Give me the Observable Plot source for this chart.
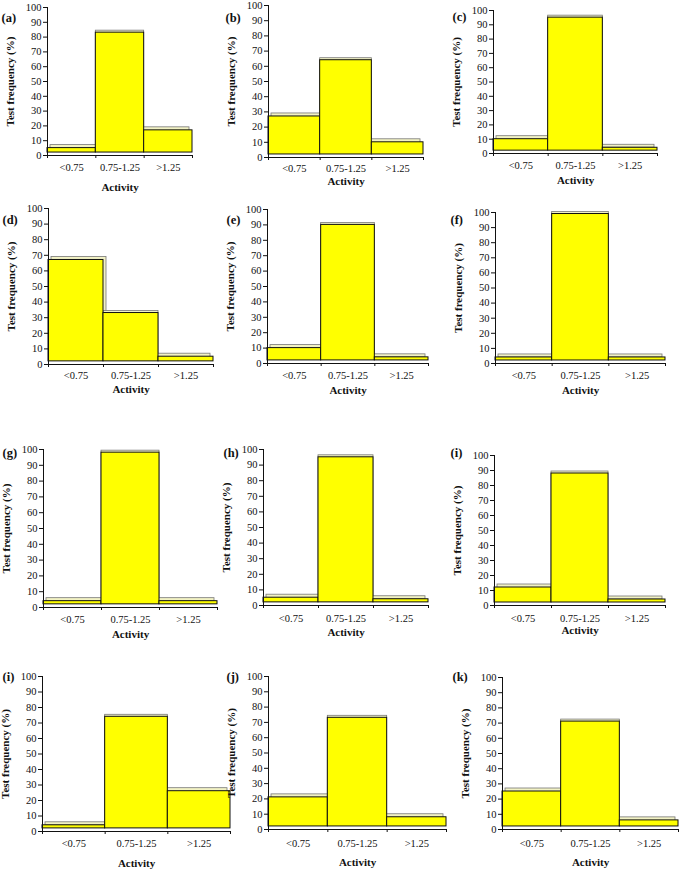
<!DOCTYPE html>
<html>
<head>
<meta charset="utf-8">
<script src="https://cdn.jsdelivr.net/npm/d3@7"></script>
<script src="https://cdn.jsdelivr.net/npm/@observablehq/plot@0.6"></script>
<style>
  html, body { margin: 0; padding: 0; background: #fff; }
  #fig { position: relative; width: 685px; height: 873px; background: #fff; overflow: hidden; }
  #fig svg { position: absolute; overflow: visible; }
</style>
</head>
<body>
<div id="fig"></div>
<script>
// ---- data ----
const categories = ["<0.75", "0.75-1.25", ">1.25"];
const panelTags = ["(a)", "(b)", "(c)", "(d)", "(e)", "(f)", "(g)", "(h)", "(i)", "(i)", "(j)", "(k)"];
const freqA = [5, 83, 17];
const freqB = [27, 64, 10];
const freqC = [10, 95, 4];
const freqD = [67, 33, 5];
const freqE = [10, 90, 4];
const freqF = [4, 99, 4];
const freqG = [4, 98, 4];
const freqH = [5, 95, 4];
const freqI = [12, 88, 4];
const freqI2 = [4, 74, 26];
const freqJ = [21, 73, 8];
const freqK = [25, 71, 6];
const yTicks = [0, 10, 20, 30, 40, 50, 60, 70, 80, 90, 100];
const xLabel = "Activity";
const yLabel = "Test frequency (%)";
const allFreq = [freqA, freqB, freqC, freqD, freqE, freqF, freqG, freqH, freqI, freqI2, freqJ, freqK];

// ---- layout (pixel placement of each panel) ----
const layout = [
  {axisX: 47,  y100: 7,   y0: 155, right: 192, catDy: 12, actDy: 35, tagX: 1,   tagY: 13},
  {axisX: 268, y100: 5,   y0: 157, right: 423, catDy: 11, actDy: 27, tagX: 225, tagY: 13},
  {axisX: 493, y100: 10,  y0: 153, right: 657, catDy: 12, actDy: 30, tagX: 452, tagY: 12},
  {axisX: 48,  y100: 208, y0: 364, right: 213, catDy: 11, actDy: 28, tagX: 2,   tagY: 215},
  {axisX: 267, y100: 209, y0: 363, right: 428, catDy: 12, actDy: 30, tagX: 226, tagY: 215},
  {axisX: 495, y100: 212, y0: 363, right: 665, catDy: 12, actDy: 30, tagX: 450, tagY: 215},
  {axisX: 43,  y100: 449, y0: 607, right: 217, catDy: 12, actDy: 30, tagX: 2,   tagY: 448},
  {axisX: 263, y100: 449, y0: 605, right: 428, catDy: 13, actDy: 30, tagX: 223, tagY: 448},
  {axisX: 494, y100: 455, y0: 605, right: 665, catDy: 13, actDy: 28, tagX: 450, tagY: 448},
  {axisX: 42,  y100: 676, y0: 831, right: 230, catDy: 12, actDy: 35, tagX: 2,   tagY: 672},
  {axisX: 268, y100: 676, y0: 829, right: 446, catDy: 14, actDy: 36, tagX: 226, tagY: 672},
  {axisX: 502, y100: 677, y0: 829, right: 678, catDy: 14, actDy: 36, tagX: 452, tagY: 672}
];

const serif = "'Liberation Serif', 'Times New Roman', Times, serif";
const floorDepth = 2;      // depth of the 3-D floor, in value units
const front = "#ffff00";
const backFill = "#f2f2c4";

function panel(vals, tag, L) {
  const mL = 50, mT = 12, mR = 14, mB = 44;
  const w = L.right - L.axisX + mL + mR;
  const h = L.y0 - L.y100 + mT + mB;
  const rows = categories.map((c, i) => ({c, i, v: vals[i]}));
  const x1 = r => r.i, x2 = r => r.i + 1;
  const chart = Plot.plot({
    width: w, height: h,
    marginLeft: mL, marginTop: mT, marginRight: mR, marginBottom: mB,
    style: {fontFamily: serif, fontSize: "10.5px", background: "transparent", color: "#111"},
    x: {domain: [0, 3], ticks: [0, 1, 2, 3], tickFormat: () => "", tickSize: 3, label: null},
    y: {domain: [0, 100], ticks: yTicks, tickSize: 4, tickPadding: 2, label: null},
    marks: [
      // floor back edge
      Plot.ruleY([floorDepth], {stroke: "#aaa", strokeWidth: 0.8, dy: -1}),
      // 3-D depth (back faces)
      Plot.rectY(rows.filter(r => r.i === 0), {x1, x2, y1: floorDepth, y2: "v", dx: 3, dy: -3, fill: backFill, stroke: "#777", strokeWidth: 0.8}),
      Plot.rectY(rows.filter(r => r.i === 1), {x1, x2, y1: floorDepth, y2: "v", dx: 0, dy: -2, fill: backFill, stroke: "#777", strokeWidth: 0.8}),
      Plot.rectY(rows.filter(r => r.i === 2), {x1, x2, y1: floorDepth, y2: "v", dx: -3, dy: -3, fill: backFill, stroke: "#777", strokeWidth: 0.8}),
      // front faces
      Plot.rectY(rows, {x1, x2, y1: floorDepth, y2: "v", fill: front, stroke: "#111", strokeWidth: 1}),
      // axes lines
      Plot.ruleY([0], {stroke: "#111", strokeWidth: 1}),
      Plot.ruleX([0], {stroke: "#111", strokeWidth: 1}),
      // category labels
      Plot.text(rows, {x: r => r.i + 0.5, y: 0, dy: L.catDy, text: "c", fontSize: 10.5, fill: "#111"}),
      // axis titles
      Plot.text([xLabel], {frameAnchor: "bottom", textAnchor: "middle", dy: L.actDy, fontWeight: "bold", fontSize: 11, fill: "#111"}),
      Plot.text([yLabel], {frameAnchor: "left", textAnchor: "middle", rotate: -90, dx: -37, fontWeight: "bold", fontSize: 11, fill: "#111"}),
      // panel tag
      Plot.text([tag], {frameAnchor: "top-left", dx: L.tagX - L.axisX, dy: L.tagY - L.y100, textAnchor: "start", fontWeight: "bold", fontSize: 12.5, fill: "#111"})
    ]
  });
  chart.style.left = (L.axisX - mL) + "px";
  chart.style.top = (L.y100 - mT) + "px";
  return chart;
}

const fig = document.getElementById("fig");
allFreq.forEach((vals, k) => fig.appendChild(panel(vals, panelTags[k], layout[k])));
</script>
</body>
</html>
